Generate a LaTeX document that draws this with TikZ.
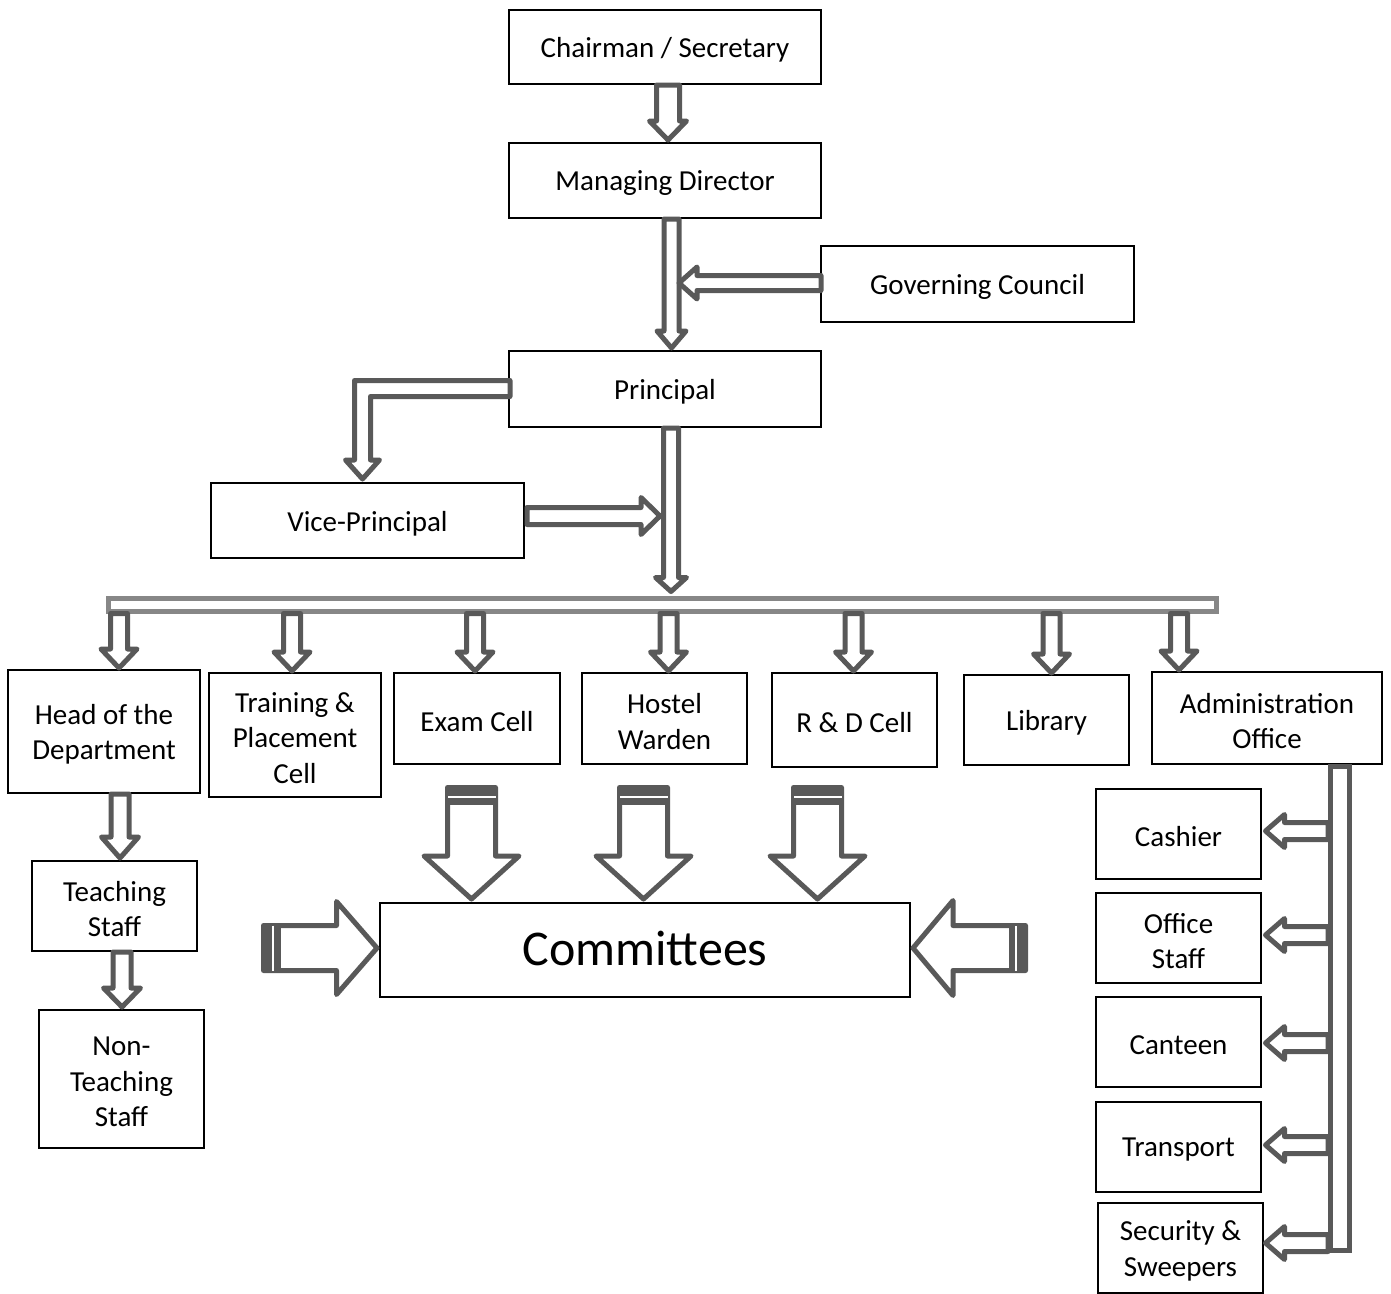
\documentclass[tikz,border=0pt]{standalone}
\usepackage{fontspec}
\setmainfont{Carlito}
\usetikzlibrary{calc}
\definecolor{arr}{HTML}{595959}
\definecolor{busc}{HTML}{878787}
% block arrow: start, end, shaft half width, head half width, head length
\newcommand\blk[5]{%
  \draw[blkarrow] let \p1=#1, \p2=#2,
     \n1={atan2(\y2-\y1,\x2-\x1)}, \n2={veclen(\x2-\x1,\y2-\y1)} in
     {[shift={(\p1)}, rotate=\n1]
      (0pt,#3pt) -- ({(\n2-#5)*1pt},#3pt) -- ({(\n2-#5)*1pt},#4pt) -- ({\n2*1pt},0pt)
      -- ({(\n2-#5)*1pt},-#4pt) -- ({(\n2-#5)*1pt},-#3pt) -- (0pt,-#3pt) -- cycle};
}
% dark band at the tail end of a block arrow
\newcommand\blkband[3]{%
  \fill[arr] let \p1=#1, \p2=#2, \n1={atan2(\y2-\y1,\x2-\x1)} in
     {[shift={(\p1)}, rotate=\n1] (0pt,#3pt) rectangle (17pt,-#3pt)};
  \draw[white, line width=1.5pt] let \p1=#1, \p2=#2, \n1={atan2(\y2-\y1,\x2-\x1)} in
     {[shift={(\p1)}, rotate=\n1] (9.5pt,#3pt) -- (9.5pt,-#3pt)};
}
\newcommand\orgbox[6]{\node[box, minimum width=#4pt, minimum height=#5pt,
   label={[boxtext]center:{#6}}] (#1) at (#2,#3) {};}
\begin{document}
\begin{tikzpicture}[x=1pt,y=-1pt,
  box/.style={draw=black, line width=2pt, fill=white, inner sep=0pt},
  boxtext/.style={align=center, inner sep=0pt, yshift=-3pt,
              font=\fontsize{29}{35.5}\selectfont},
  blkarrow/.style={draw=arr, fill=white, line width=5pt, line join=round},
  busbar/.style={draw=busc, line width=5pt, fill=white, inner sep=0pt},
  abusbar/.style={draw=arr, line width=5pt, fill=white, inner sep=0pt}]
\useasboundingbox (0,0) rectangle (1391,1293);

% boxes
\orgbox{chair}{665}{47}{312}{74}{Chairman / Secretary}
\orgbox{md}{665}{180.5}{312}{75}{Managing Director}
\orgbox{gc}{977.5}{284}{313}{76}{Governing Council}
\orgbox{prin}{665}{389}{312}{76}{Principal}
\orgbox{vp}{367.5}{520.5}{313}{75}{Vice-Principal}
\orgbox{hod}{104}{731.5}{192}{123}{Head of the\\Department}
\orgbox{tp}{295}{735}{172}{124}{Training \&\\Placement\\Cell}
\orgbox{exam}{477}{718.5}{166}{91}{Exam Cell}
\orgbox{hostel}{664.5}{718.5}{165}{91}{Hostel\\Warden}
\orgbox{rd}{854.5}{720}{165}{94}{R \& D Cell}
\orgbox{lib}{1046.5}{720}{165}{90}{Library}
\orgbox{admin}{1267}{718}{230}{92}{Administration\\Office}
\orgbox{ts}{114.5}{906}{165}{90}{Teaching\\Staff}
\orgbox{nts}{121.5}{1079}{165}{138}{Non-\\Teaching\\Staff}
\node[box, minimum width=530pt, minimum height=94pt,
  label={[boxtext, yshift=5pt, font=\fontsize{50}{60}\selectfont]center:Committees}] (comm) at (645,950) {};
\orgbox{cash}{1178.5}{834}{165}{90}{Cashier}
\orgbox{ofs}{1178.5}{938}{165}{90}{Office\\Staff}
\orgbox{cant}{1178.5}{1042}{165}{90}{Canteen}
\orgbox{trans}{1178.5}{1147}{165}{90}{Transport}
\orgbox{sec}{1180.5}{1248}{165}{90}{Security \&\\Sweepers}

% buses
\node[busbar, minimum width=1108pt, minimum height=13pt] (bus) at (662,604.5) {};
\node[abusbar, minimum width=19pt, minimum height=484.5pt] (abus) at (1340,1008.25) {};

% top chain
\blk{($(chair.south)+(3,0)$)}{($(md.north)+(3,-2)$)}{11.5}{18.5}{19}
\blk{($(md.south)+(6.5,0)$)}{($(prin.north)+(6.5,-2)$)}{7.5}{14.5}{17}
\blk{($(gc.west)+(1,-1)$)}{($(md.south |- gc.west)+(14,-1)$)}{7.5}{16}{18}

% principal -> vice-principal (bent)
\coordinate (pw1) at ($(prin.west)+(2,-8.5)$);
\coordinate (pw2) at ($(prin.west)+(2,7.5)$);
\coordinate (vt) at ($(vp.north)+(-5,-3)$);
\draw[blkarrow] (pw1) -- ($(vt |- pw1)+(-8,0)$) -- ($(vt)+(-8,-19)$) -- ($(vt)+(-17,-19)$)
  -- (vt) -- ($(vt)+(17,-19)$) -- ($(vt)+(8,-19)$) -- ($(vt |- pw2)+(8,0)$) -- (pw2) -- cycle;

% principal -> bus, vice-principal -> trunk
\blk{($(prin.south)+(6,0)$)}{($(prin.south |- bus.north)+(6,-4)$)}{7.5}{15.5}{14}
\blk{($(vp.east)+(2,-4.5)$)}{($(md.south |- vp.east)+(-5,-4.5)$)}{8.5}{18.5}{19}

% bus -> departments
\blk{($(hod.north |- bus.south)+(15,0)$)}{($(hod.north)+(15,-1)$)}{8.5}{18}{19}
\blk{($(tp.north |- bus.south)+(-3,0)$)}{($(tp.north)+(-3,-1)$)}{8.5}{18}{19}
\blk{($(exam.north |- bus.south)+(-2,0)$)}{($(exam.north)+(-2,-1)$)}{8.5}{18}{19}
\blk{($(hostel.north |- bus.south)+(4,0)$)}{($(hostel.north)+(4,-1)$)}{8.5}{18}{19}
\blk{($(rd.north |- bus.south)+(-1,0)$)}{($(rd.north)+(-1,-1)$)}{8.5}{18}{19}
\blk{($(lib.north |- bus.south)+(5,0)$)}{($(lib.north)+(5,-1)$)}{8.5}{18}{19}
\blk{($(admin.north |- bus.south)+(-88,0)$)}{($(admin.north)+(-88,-1)$)}{8.5}{18}{19}

% HOD chain
\blk{($(hod.south)+(16,0)$)}{($(hod.south |- ts.north)+(16,-2)$)}{9}{18.5}{21}
\blk{($(ts.south)+(7.5,0)$)}{($(nts.north)+(0.5,-2)$)}{9}{18.5}{19}

% committees arrows
\blk{($(comm.north)+(-173.5,-114.5)$)}{($(comm.north)+(-173.5,-3)$)}{24}{47.5}{43}
\blkband{($(comm.north)+(-173.5,-114.5)$)}{($(comm.north)+(-173.5,-3)$)}{24}
\blk{($(comm.north)+(-1.5,-114.5)$)}{($(comm.north)+(-1.5,-3)$)}{24}{47.5}{43}
\blkband{($(comm.north)+(-1.5,-114.5)$)}{($(comm.north)+(-1.5,-3)$)}{24}
\blk{($(comm.north)+(172.5,-114.5)$)}{($(comm.north)+(172.5,-3)$)}{24}{47.5}{43}
\blkband{($(comm.north)+(172.5,-114.5)$)}{($(comm.north)+(172.5,-3)$)}{24}
\blk{($(comm.west)+(-115.5,-2)$)}{($(comm.west)+(-2,-2)$)}{22.5}{46.5}{40.5}
\blkband{($(comm.west)+(-115.5,-2)$)}{($(comm.west)+(-2,-2)$)}{22.5}
\blk{($(comm.east)+(114.5,-2)$)}{($(comm.east)+(2,-2)$)}{22.5}{47.5}{40}
\blkband{($(comm.east)+(114.5,-2)$)}{($(comm.east)+(2,-2)$)}{22.5}

% admin bus -> offices
\blk{($(abus.west |- cash.east)+(0,-3)$)}{($(cash.east)+(3.5,-3)$)}{8.5}{16.5}{19}
\blk{($(abus.west |- ofs.east)+(0,-3)$)}{($(ofs.east)+(3.5,-3)$)}{8.5}{16.5}{19}
\blk{($(abus.west |- cant.east)+(0,1)$)}{($(cant.east)+(3.5,1)$)}{8.5}{16.5}{19}
\blk{($(abus.west |- trans.east)+(0,-2)$)}{($(trans.east)+(3.5,-2)$)}{8.5}{16.5}{19}
\blk{($(abus.west |- sec.east)+(0,-5)$)}{($(sec.east)+(1.5,-5)$)}{8.5}{16.5}{19}
\end{tikzpicture}
\end{document}
